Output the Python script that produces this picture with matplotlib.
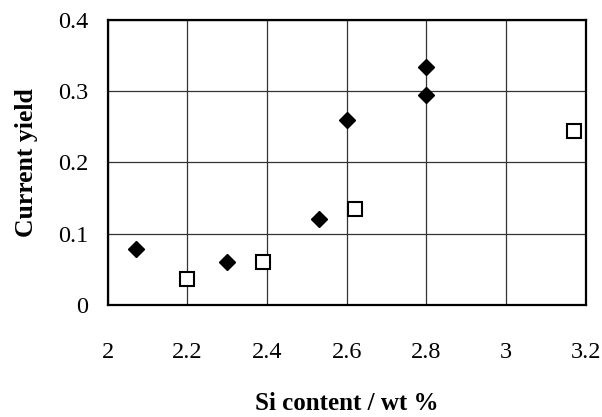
import matplotlib
matplotlib.use("Agg")
import matplotlib.pyplot as plt

plt.rcParams['font.family'] = ['Liberation Serif', 'DejaVu Serif']

# filled diamonds
si_diamond = [2.07, 2.30, 2.53, 2.60, 2.80, 2.80]
cy_diamond = [0.078, 0.060, 0.121, 0.260, 0.295, 0.334]

# open squares
si_square = [2.20, 2.39, 2.62, 3.17]
cy_square = [0.036, 0.060, 0.135, 0.244]

x_ticks = [2, 2.2, 2.4, 2.6, 2.8, 3, 3.2]
x_labels = ['2', '2.2', '2.4', '2.6', '2.8', '3', '3.2']
y_ticks = [0, 0.1, 0.2, 0.3, 0.4]
y_labels = ['0', '0.1', '0.2', '0.3', '0.4']

fig = plt.figure(figsize=(6.02, 4.17), dpi=100)
ax = fig.add_axes([0.179, 0.269, 0.794, 0.683])

ax.plot(si_diamond, cy_diamond, linestyle='none', marker='D', markersize=8,
        color='black', zorder=3, clip_on=False)
ax.plot(si_square, cy_square, linestyle='none', marker='s', markersize=9.5,
        markerfacecolor='white', markeredgecolor='black', markeredgewidth=1.5,
        zorder=3, clip_on=False)

ax.set_xlim(2, 3.2)
ax.set_ylim(0, 0.4)
ax.set_xticks(x_ticks)
ax.set_xticklabels(x_labels)
ax.set_yticks(y_ticks)
ax.set_yticklabels(y_labels)
ax.tick_params(axis='both', length=0, labelsize=17.5)
ax.tick_params(axis='x', pad=27)
ax.tick_params(axis='y', pad=14)

ax.grid(True, color='#333333', linewidth=0.9)
ax.set_axisbelow(True)
for s in ax.spines.values():
    s.set_linewidth(1.6)

ax.set_xlabel('Si content / wt %', fontsize=18, fontweight='bold', labelpad=21)
ax.set_ylabel('Current yield', fontsize=18.5, fontweight='bold', labelpad=14)

fig.savefig('out.png', dpi=100)
